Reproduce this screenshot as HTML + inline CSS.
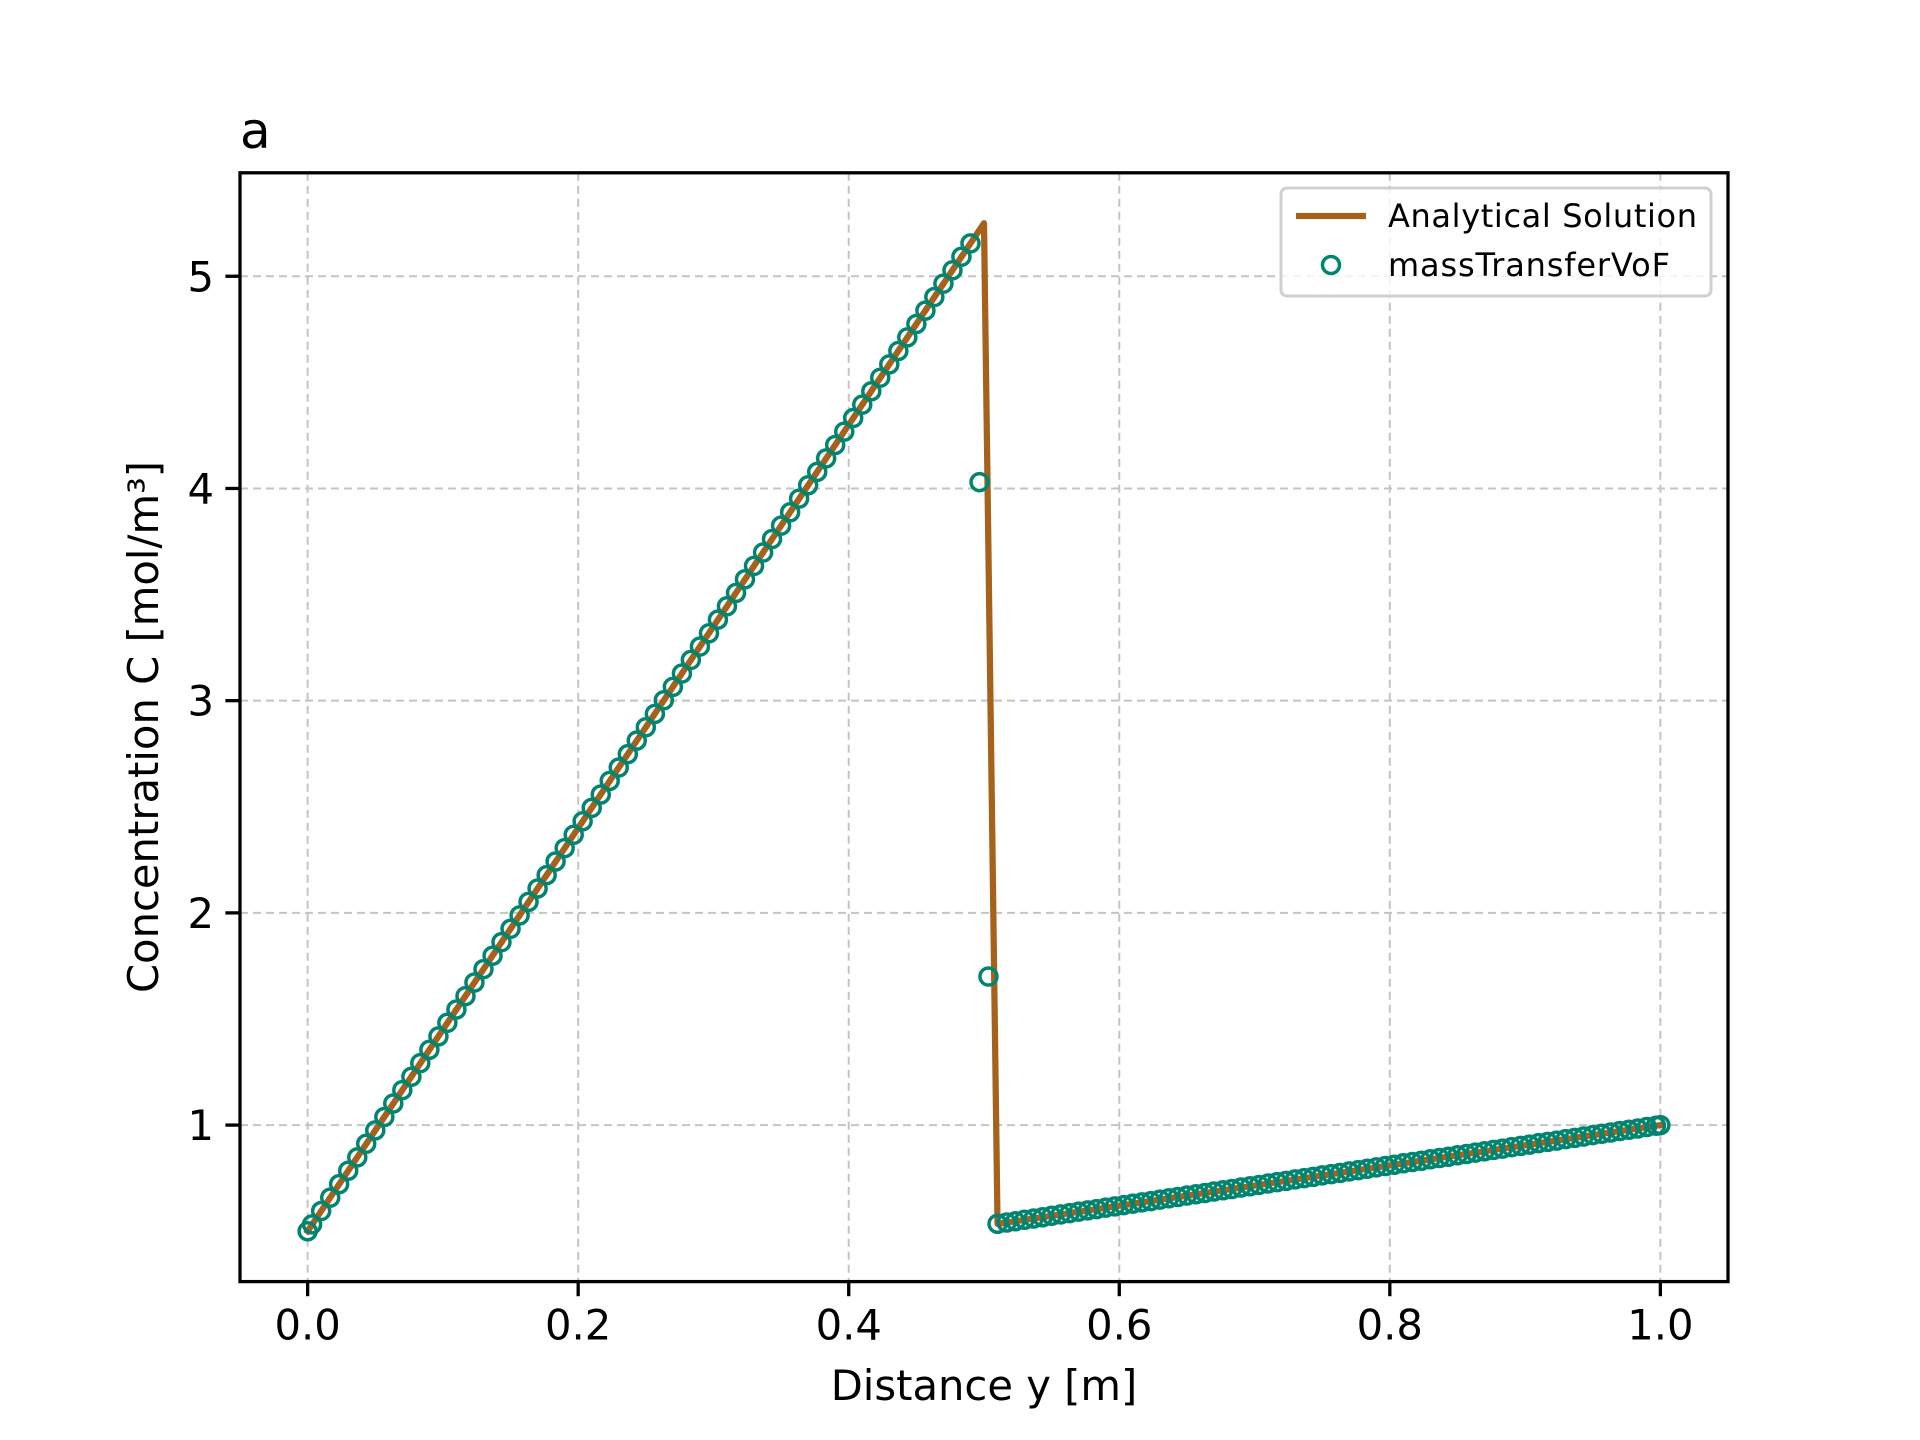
<!DOCTYPE html>
<html><head><meta charset="utf-8"><style>
html,body{margin:0;padding:0;background:#fff;}
svg{display:block;font-family:"DejaVu Sans","Liberation Sans",sans-serif;}
</style></head><body>
<svg id="chart" width="1920" height="1440" viewBox="0 0 1920 1440" xmlns="http://www.w3.org/2000/svg">
<rect width="1920" height="1440" fill="#fff"/>
<g id="grid"></g>
<g id="series"></g>
<rect x="240" y="172.8" width="1488" height="1108.8" fill="none" stroke="#000" stroke-width="3.3"/>
<g id="ticks"></g>
<text x="240" y="148" font-size="50">a</text>
<text x="984" y="1400" font-size="41.7" text-anchor="middle">Distance y [m]</text>
<text transform="translate(158,727) rotate(-90)" font-size="41.7" text-anchor="middle">Concentration C [mol/m³]</text>
<g>
<rect x="1281" y="188" width="430" height="108" rx="6" fill="#fff" fill-opacity="0.8" stroke="#d0d0d0" stroke-width="3"/>
<line x1="1296" y1="216" x2="1366" y2="216" stroke="#a6611a" stroke-width="6.25"/>
<text x="1388" y="227" font-size="32" textLength="309">Analytical Solution</text>
<circle cx="1331" cy="265" r="8.5" fill="none" stroke="#018571" stroke-width="3.5"/>
<text x="1388" y="276" font-size="32" textLength="282">massTransferVoF</text>
</g>
</svg>
<script>
const xTicks = [0.0, 0.2, 0.4, 0.6, 0.8, 1.0];
const xTickLabels = ["0.0", "0.2", "0.4", "0.6", "0.8", "1.0"];
const yTicks = [1, 2, 3, 4, 5];
const yTickLabels = ["1", "2", "3", "4", "5"];
const analyticalX = [0, 0.5, 0.51, 1.0];
const analyticalY = [0.5, 5.25, 0.5345, 1.0];
const simX = [0,
.0033,.01,.0167,.0233,.03,.0367,.0433,.05,.0567,.0633,.07,.0767,.0833,.09,.0967,
.1033,.11,.1167,.1233,.13,.1367,.1433,.15,.1567,.1633,.17,.1767,.1833,.19,.1967,
.2033,.21,.2167,.2233,.23,.2367,.2433,.25,.2567,.2633,.27,.2767,.2833,.29,.2967,
.3033,.31,.3167,.3233,.33,.3367,.3433,.35,.3567,.3633,.37,.3767,.3833,.39,.3967,
.4033,.41,.4167,.4233,.43,.4367,.4433,.45,.4567,.4633,.47,.4767,.4833,.49,.4967,
.5033,.51,.5167,.5233,.53,.5367,.5433,.55,.5567,.5633,.57,.5767,.5833,.59,.5967,
.6033,.61,.6167,.6233,.63,.6367,.6433,.65,.6567,.6633,.67,.6767,.6833,.69,.6967,
.7033,.71,.7167,.7233,.73,.7367,.7433,.75,.7567,.7633,.77,.7767,.7833,.79,.7967,
.8033,.81,.8167,.8233,.83,.8367,.8433,.85,.8567,.8633,.87,.8767,.8833,.89,.8967,
.9033,.91,.9167,.9233,.93,.9367,.9433,.95,.9567,.9633,.97,.9767,.9833,.99,.9967,
1.0];
const simY = [0.5,
.532,.595,.658,.722,.785,.848,.912,.975,1.038,1.102,1.165,1.228,1.292,1.355,1.418,
1.482,1.545,1.608,1.672,1.735,1.798,1.862,1.925,1.988,2.052,2.115,2.178,2.242,2.305,2.368,
2.432,2.495,2.558,2.622,2.685,2.748,2.812,2.875,2.938,3.002,3.065,3.128,3.192,3.255,3.318,
3.382,3.445,3.508,3.572,3.635,3.698,3.762,3.825,3.888,3.952,4.015,4.078,4.142,4.205,4.268,
4.332,4.395,4.458,4.522,4.585,4.648,4.712,4.775,4.838,4.902,4.965,5.028,5.092,5.155,4.03,
1.70,.535,.541,.547,.554,.560,.566,.573,.579,.585,.592,.598,.604,.611,.617,
.623,.630,.636,.642,.649,.655,.661,.668,.674,.680,.687,.693,.699,.706,.712,
.718,.725,.731,.737,.744,.750,.756,.763,.769,.775,.782,.788,.794,.801,.807,
.813,.820,.826,.832,.839,.845,.851,.858,.864,.870,.877,.883,.889,.896,.902,
.908,.915,.921,.927,.934,.940,.946,.953,.959,.965,.972,.978,.984,.991,.997,
1.0];

const NS = "http://www.w3.org/2000/svg";
const L = 240, R = 1728, T = 172.8, B = 1281.6;
const xMin = -0.05, xMax = 1.05, yMin = 0.2625, yMax = 5.4875;
function sx(v){ return L + (v - xMin) / (xMax - xMin) * (R - L); }
function sy(v){ return B - (v - yMin) / (yMax - yMin) * (B - T); }
function mk(tag, attrs, parent){
  const e = document.createElementNS(NS, tag);
  for (const k in attrs) e.setAttribute(k, attrs[k]);
  parent.appendChild(e); return e;
}
const grid = document.getElementById('grid');
const ticks = document.getElementById('ticks');
const series = document.getElementById('series');
xTicks.forEach((v, i) => {
  const g = mk('line', {x1:sx(v), x2:sx(v), y1:T, y2:B, stroke:'#c4c4c4', 'stroke-width':2, 'stroke-dasharray':'8,5'}, grid);
  
  
  const t = mk('line', {x1:sx(v), x2:sx(v), y1:B, y2:B+14.6, stroke:'#000', 'stroke-width':3.3}, ticks);
  
  
  const lb = mk('text', {x:sx(v), y:B+58, 'font-size':41.7, 'text-anchor':'middle'}, ticks);
  lb.textContent = xTickLabels[i];
  
  
});
yTicks.forEach((v, i) => {
  const g = mk('line', {x1:L, x2:R, y1:sy(v), y2:sy(v), stroke:'#c4c4c4', 'stroke-width':2, 'stroke-dasharray':'8,5'}, grid);
  
  
  const t = mk('line', {x1:L-14.6, x2:L, y1:sy(v), y2:sy(v), stroke:'#000', 'stroke-width':3.3}, ticks);
  
  
  const lb = mk('text', {x:L-26, y:sy(v)+15, 'font-size':41.7, 'text-anchor':'end'}, ticks);
  lb.textContent = yTickLabels[i];
  
  
});
const pts = analyticalX.map((x, i) => sx(x) + ',' + sy(analyticalY[i])).join(' ');
const line = mk('polyline', {points:pts, fill:'none', stroke:'#a6611a', 'stroke-width':6.25, 'stroke-linejoin':'round', 'stroke-linecap':'square'}, series);


simX.forEach((x, i) => {
  const c = mk('circle', {cx:sx(x), cy:sy(simY[i]), r:8.5, fill:'none', stroke:'#018571', 'stroke-width':3.5}, series);
  
  
});
</script>
</body></html>
